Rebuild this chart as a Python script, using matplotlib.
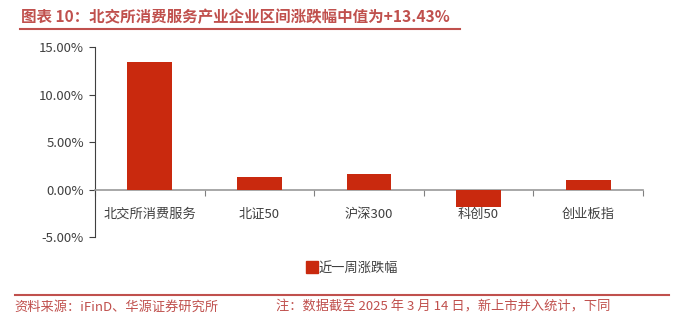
import matplotlib.pyplot as plt
from matplotlib.lines import Line2D
from matplotlib.ticker import FuncFormatter, FixedLocator

plt.rcParams['font.family'] = ['Noto Sans CJK SC', 'DejaVu Sans']

categories = ['北交所消费服务', '北证50', '沪深300', '科创50', '创业板指']
weekly_change = [13.43, 1.37, 1.60, -1.80, 1.05]
series_name = '近一周涨跌幅'
title = '图表 10：北交所消费服务产业企业区间涨跌幅中值为+13.43%'
source = '资料来源：iFinD、华源证券研究所'
note = '注：数据截至 2025 年 3 月 14 日，新上市并入统计，下同'

red = '#C9290E'
text_red = '#C0504D'
grey = '#404040'

fig = plt.figure(figsize=(6.91, 3.29), dpi=100)
ax = fig.add_axes([0.1375, 0.2796, 0.793, 0.5774])

x = range(len(categories))
ax.bar(x, weekly_change, width=0.41, color=red, zorder=3)

ax.set_xlim(-0.5, len(categories) - 0.5)
ax.set_ylim(-5, 15)
ax.set_yticks([-5, 0, 5, 10, 15])
ax.yaxis.set_major_formatter(FuncFormatter(lambda v, p: f'{v:.2f}%'))

ax.set_xticks(list(x))
ax.set_xticklabels(categories)
ax.xaxis.set_minor_locator(FixedLocator([i - 0.5 for i in range(len(categories) + 1)]))
ax.tick_params(axis='x', which='major', length=0, pad=13, labelsize=9.5, labelcolor=grey)
ax.tick_params(axis='x', which='minor', length=4, color='#808080', width=0.8)
ax.tick_params(axis='y', length=4, color='#404040', width=0.8, labelsize=9.5, labelcolor=grey, pad=4)

for s in ['top', 'right']:
    ax.spines[s].set_visible(False)
ax.spines['bottom'].set_position(('data', 0))
ax.spines['bottom'].set_color('#999999')
ax.spines['bottom'].set_linewidth(1.2)
ax.spines['left'].set_color('#404040')
ax.spines['left'].set_linewidth(0.8)

handle = Line2D([], [], marker='s', linestyle='', color=red, markersize=8)
fig.legend([handle], [series_name], loc='center', bbox_to_anchor=(0.51, 0.185),
           frameon=False, fontsize=9.5, handletextpad=0.1, handlelength=0.8,
           labelcolor=grey)

# title + footer, with their red rules
fig.text(0.031, 0.948, title, fontsize=11.2, fontweight='bold', color=text_red, va='center')
fig.add_artist(Line2D([0.029, 0.666], [0.912, 0.912], color=text_red, linewidth=1.5))
fig.add_artist(Line2D([0.021, 0.968], [0.103, 0.103], color=text_red, linewidth=1.5))
fig.text(0.021, 0.067, source, fontsize=9.5, color=text_red, va='center')
fig.text(0.400, 0.067, note, fontsize=9.5, color=text_red, va='center')

fig.savefig('out.png', dpi=100)
